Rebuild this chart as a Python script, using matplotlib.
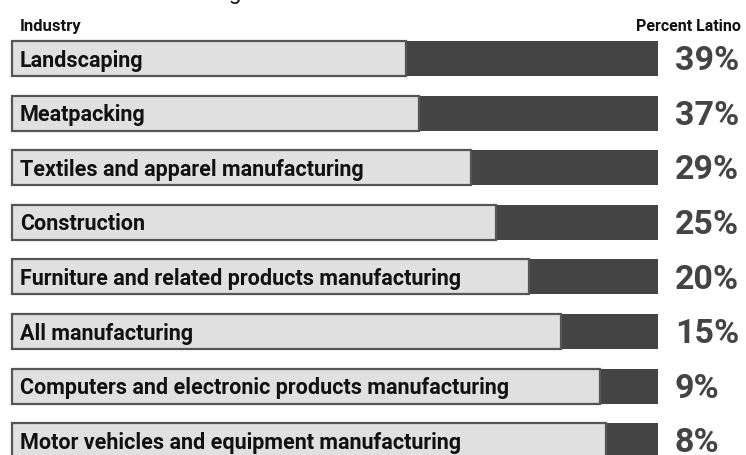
"""Share of Latino workers by industry: split bars (non-Latino light, Latino dark)."""

import matplotlib
matplotlib.use("Agg")
import matplotlib.pyplot as plt

industries = [
    "Landscaping",
    "Meatpacking",
    "Textiles and apparel manufacturing",
    "Construction",
    "Furniture and related products manufacturing",
    "All manufacturing",
    "Computers and electronic products manufacturing",
    "Motor vehicles and equipment manufacturing",
]
pct_latino = [39, 37, 29, 25, 20, 15, 9, 8]
pct_labels = ["39%", "37%", "29%", "25%", "20%", "15%", "9%", "8%"]

W, H = 746, 456
LIGHT = "#e0e0e0"
DARK = "#444444"
EDGE = "#555555"

plt.rcParams["font.family"] = ["Roboto", "DejaVu Sans"]

fig = plt.figure(figsize=(W / 100, H / 100), dpi=100)
ax = fig.add_axes([0, 0, 1, 1])

# pixel mapping: bars run from x=12 px to x=658 px, centres 59.5 px + 54.6 px per row
x0, x1 = 12.0, 658.0
sx = (x1 - x0) / 100.0
ax.set_xlim(-x0 / sx, (W - x0) / sx)
cy0, pitch = 59.5, 54.6
ax.set_ylim((H - cy0) / pitch, -cy0 / pitch)
ax.axis("off")

ypos = list(range(len(industries)))
rest = [100 - p for p in pct_latino]
h = 35 / pitch

ax.barh(ypos, pct_latino, left=rest, height=h, color=DARK, edgecolor="none", zorder=2)
ax.barh(ypos, rest, left=0, height=h, color=LIGHT, edgecolor=EDGE, linewidth=1.6, zorder=3)

for y, name, lab in zip(ypos, industries, pct_labels):
    ax.text(8 / sx, y + 0.02, name, ha="left", va="center", fontsize=15.5,
            fontweight="bold", color="#111111", zorder=4)
    ax.text((675 - x0) / sx, y + 0.03, lab, ha="left", va="center", fontsize=24.5,
            fontweight="bold", color=DARK, zorder=4)

fig.text(20 / W, 1 - 31 / H, "Industry", ha="left", va="baseline", fontsize=12,
         fontweight="bold", color="#111111")
fig.text(741 / W, 1 - 31 / H, "Percent Latino", ha="right", va="baseline", fontsize=11.5,
         fontweight="bold", color="#111111")
# tail of a title cropped off the top edge
fig.text(229 / W, 1 + 1 / H, "g", ha="left", va="baseline", fontsize=16, color="#111111")

fig.savefig("out.png", dpi=100)
